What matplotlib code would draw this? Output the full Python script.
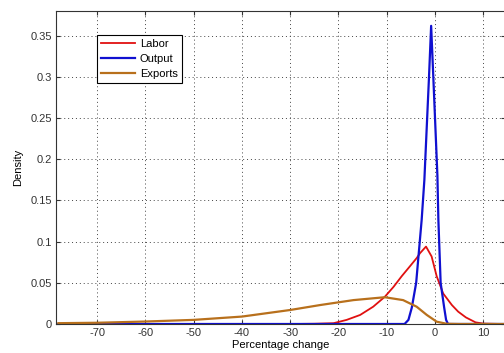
import numpy as np
import matplotlib.pyplot as plt

plt.rcParams['font.family'] = ['Liberation Sans', 'DejaVu Sans']
plt.rcParams['axes.unicode_minus'] = False

# values
labor_x = [-78, -30, -25, -21, -18.3, -15.5, -12.8, -10.4, -8.6, -6.9, -5.2, -3.8, -3.1, -1.86, -0.7, 0.35, 1.7,
           3.5, 4.8, 6.4, 8.4, 10, 14, 20]
labor_y = [0, 0, 0.0003, 0.001, 0.005, 0.011, 0.021, 0.033, 0.045, 0.058, 0.070, 0.080, 0.086, 0.094, 0.082,
           0.058, 0.037, 0.023, 0.015, 0.008, 0.002, 0.0005, 0, 0]

output_x = [-78, -7, -6.3, -5.5, -4.8, -3.9, -2.76, -2.2, -1.24, -0.8, -0.35, 0.5, 0.7, 1.17, 1.9, 2.3, 2.7, 20]
output_y = [0, 0, 0, 0.005, 0.02, 0.05, 0.1265, 0.175, 0.30, 0.362, 0.30, 0.18, 0.1265, 0.05, 0.02, 0.005, 0, 0]

exports_x = [-78, -70, -60, -50, -40, -30, -23.8, -16.9, -10.4, -6.6, -3.8, -1.7, 0.35, 2.4, 5, 20]
exports_y = [0.001, 0.0015, 0.003, 0.005, 0.009, 0.017, 0.023, 0.029, 0.0325, 0.029, 0.021, 0.011, 0.0028,
             0.0003, 0, 0]

xticks = list(range(-70, 20, 10))
yticks = [0, 0.05, 0.1, 0.15, 0.2, 0.25, 0.3, 0.35]
ytick_labels = ['0', '0.05', '0.1', '0.15', '0.2', '0.25', '0.3', '0.35']

fig = plt.figure(figsize=(5.04, 3.53), dpi=100)
ax = fig.add_axes([56/504, 29/353, 449/504, 313/353])

ax.plot(labor_x, labor_y, color='#e01010', lw=1.3, label='Labor')
ax.plot(output_x, output_y, color='#1010d0', lw=1.6, label='Output')
ax.plot(exports_x, exports_y, color='#b8701c', lw=1.6, label='Exports')

ax.set_xlim(-78.5, 14.5)
ax.set_ylim(0, 0.38)
ax.set_xticks(xticks)
ax.set_yticks(yticks)
ax.set_yticklabels(ytick_labels)
ax.tick_params(direction='in', length=3, labelsize=8, top=True, right=True, colors='#333333', pad=3)
ax.grid(True, linestyle=(0, (1, 3)), color='#444444', lw=0.7)
for s in ax.spines.values():
    s.set_color('#333333')
    s.set_linewidth(0.8)

ax.set_xlabel('Percentage change', fontsize=8, labelpad=1)
ax.set_ylabel('Density', fontsize=8, labelpad=5)

leg = ax.legend(loc='upper left', bbox_to_anchor=(97/504, 1 - 35/353), bbox_transform=fig.transFigure,
                fontsize=8, frameon=True, fancybox=False, edgecolor='black', framealpha=1,
                handlelength=3.1, borderpad=0.35, labelspacing=0.45, handletextpad=0.4, borderaxespad=0)
leg.get_frame().set_linewidth(0.8)

fig.savefig('out.png', dpi=100)
